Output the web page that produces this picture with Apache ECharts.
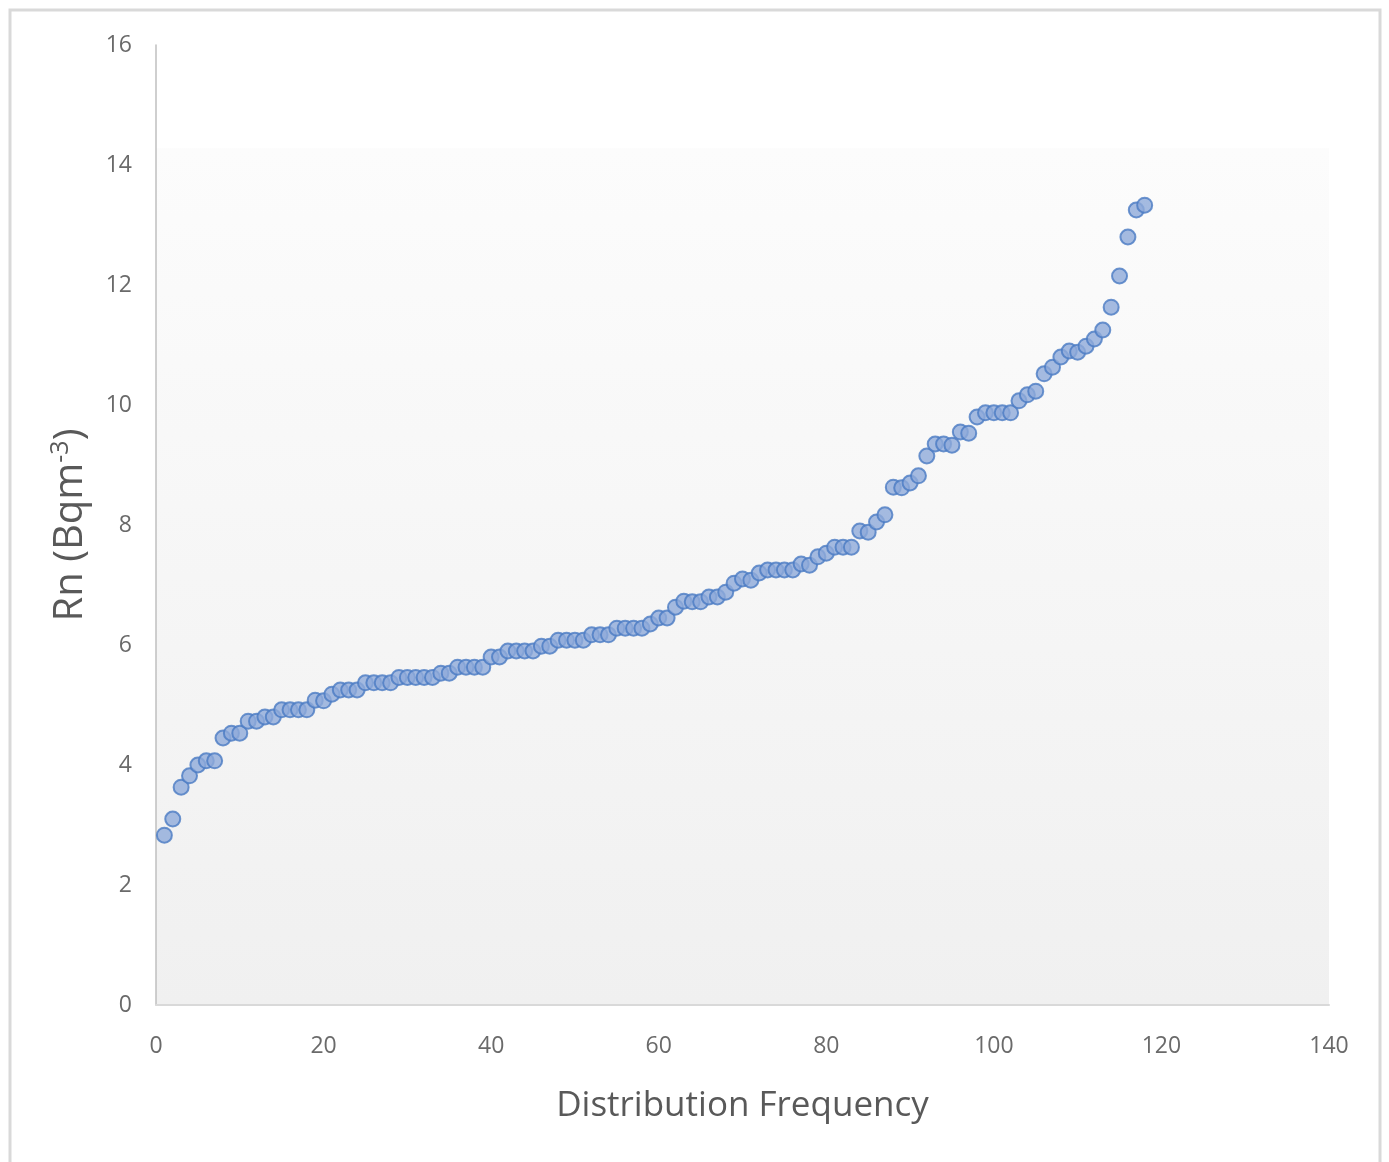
<!DOCTYPE html>
<html>
<head>
<meta charset="utf-8">
<script src="https://cdn.jsdelivr.net/npm/echarts@6/dist/echarts.min.js"></script>
<style>
html,body{margin:0;padding:0;background:#fff;}
#chart{width:1389px;height:1162px;}
</style>
</head>
<body>
<div id="chart"></div>
<script>
// Data: distribution frequency rank (x) vs Rn concentration (y)
var rnValues = [
  2.83, 3.10, 3.63, 3.82, 4.00, 4.07, 4.07, 4.45, 4.53, 4.53,
  4.73, 4.73, 4.80, 4.80, 4.92, 4.92, 4.92, 4.92, 5.08, 5.07,
  5.18, 5.25, 5.25, 5.25, 5.37, 5.37, 5.37, 5.37, 5.46, 5.46,
  5.46, 5.46, 5.46, 5.53, 5.53, 5.63, 5.63, 5.63, 5.63, 5.80,
  5.80, 5.90, 5.90, 5.90, 5.90, 5.98, 5.98, 6.08, 6.08, 6.08,
  6.08, 6.17, 6.17, 6.17, 6.28, 6.28, 6.28, 6.28, 6.35, 6.45,
  6.45, 6.63, 6.73, 6.72, 6.72, 6.80, 6.80, 6.88, 7.03, 7.10,
  7.08, 7.20, 7.25, 7.25, 7.25, 7.25, 7.35, 7.33, 7.47, 7.53,
  7.63, 7.63, 7.63, 7.90, 7.88, 8.05, 8.17, 8.63, 8.62, 8.70,
  8.82, 9.15, 9.35, 9.35, 9.33, 9.55, 9.53, 9.80, 9.87, 9.87,
  9.87, 9.87, 10.07, 10.17, 10.23, 10.52, 10.63, 10.80, 10.90, 10.88,
  10.98, 11.10, 11.25, 11.63, 12.15, 12.80, 13.25, 13.33
];
var xTicks = [0, 20, 40, 60, 80, 100, 120, 140];
var yTicks = [0, 2, 4, 6, 8, 10, 12, 14, 16];
var xTitle = 'Distribution Frequency';
var yTitle = ['Rn (Bqm', '-3', ')'];

var points = rnValues.map(function (v, i) { return [i + 1, v]; });

var chart = echarts.init(document.getElementById('chart'), null, { renderer: 'canvas' });
var font = "'Open Sans', 'Noto Sans', sans-serif";
chart.setOption({
  animation: false,
  backgroundColor: '#ffffff',
  graphic: [{
    type: 'rect',
    silent: true,
    z: -10,
    shape: { x: 10, y: 10, width: 1370, height: 1180 },
    style: { fill: 'none', stroke: '#d9d9d9', lineWidth: 3 }
  }],
  grid: {
    left: 156, top: 45, right: 60, bottom: 157,
    show: true, borderWidth: 0,
    backgroundColor: {
      type: 'linear', x: 0, y: 0, x2: 0, y2: 1,
      colorStops: [
        { offset: 0, color: '#ffffff' },
        { offset: 0.107, color: '#ffffff' },
        { offset: 0.108, color: '#fcfcfc' },
        { offset: 1, color: '#f0f0f0' }
      ]
    }
  },
  xAxis: {
    type: 'value',
    min: xTicks[0], max: xTicks[xTicks.length - 1], interval: 20,
    name: xTitle,
    nameLocation: 'middle',
    nameGap: 84,
    nameTextStyle: { fontFamily: font, fontSize: 35, color: '#595959' },
    axisLine: { show: true, lineStyle: { color: '#d9d9d9', width: 2 } },
    axisTick: { show: false },
    splitLine: { show: false },
    axisLabel: { fontFamily: font, fontSize: 23, color: '#6a6a6a', margin: 30 }
  },
  yAxis: {
    type: 'value',
    min: yTicks[0], max: yTicks[yTicks.length - 1], interval: 2,
    name: '{a|' + yTitle[0] + '}{b|' + yTitle[1] + '}{a|' + yTitle[2] + '}',
    nameLocation: 'middle',
    nameGap: 62,
    nameRotate: 90,
    nameTextStyle: {
      rich: {
        a: { fontFamily: font, fontSize: 40, color: '#595959', lineHeight: 46 },
        b: { fontFamily: font, fontSize: 25, color: '#595959', verticalAlign: 'top', lineHeight: 46, padding: [0, 0, 16, 0] }
      }
    },
    axisLine: { show: true, lineStyle: { color: '#bfbfbf', width: 1.5 } },
    axisTick: { show: false },
    splitLine: { show: false },
    axisLabel: { fontFamily: font, fontSize: 23, color: '#6a6a6a', margin: 24 }
  },
  series: [{
    type: 'scatter',
    data: points,
    symbol: 'circle',
    symbolSize: 15,
    itemStyle: { color: '#8eaad9', borderColor: '#4a7bc3', borderWidth: 2 }
  }]
});
</script>
</body>
</html>
